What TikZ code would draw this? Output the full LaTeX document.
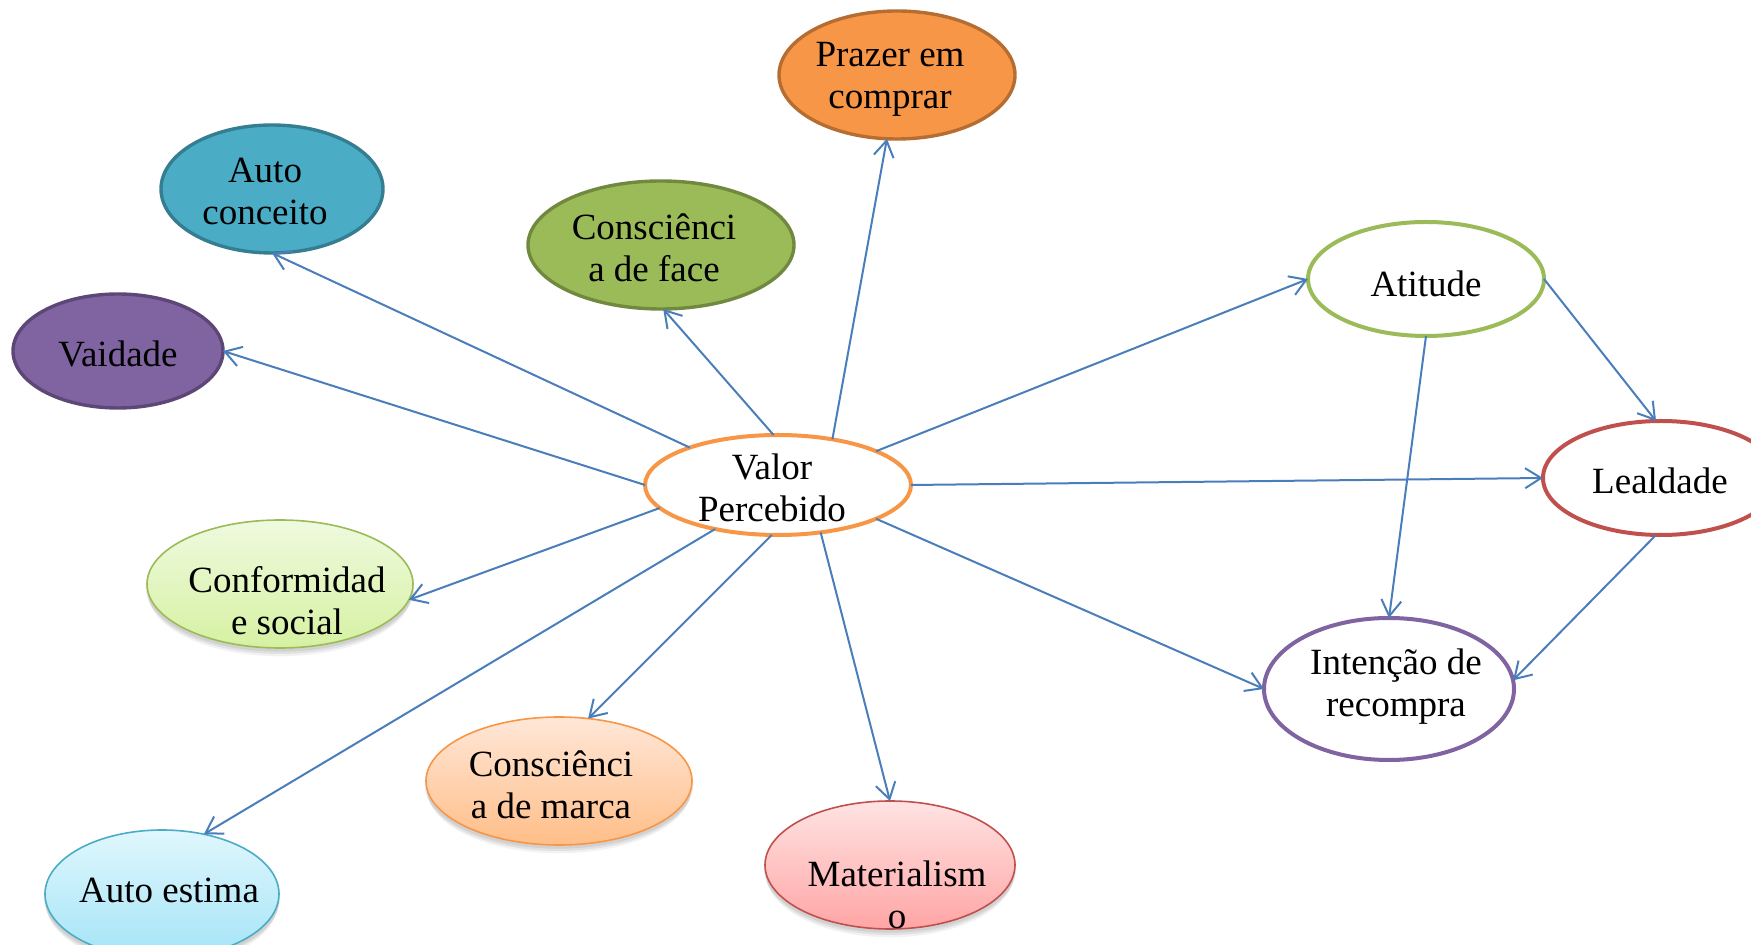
\documentclass[tikz,border=0pt]{standalone}
\usepackage{fontspec}
\setmainfont{Liberation Serif}
\usetikzlibrary{shapes.geometric,arrows.meta,shadows}
\definecolor{connc}{HTML}{4A7EBB}
\definecolor{orF}{HTML}{F79646}
\definecolor{orD}{HTML}{B66D31}
\definecolor{blF}{HTML}{4BACC6}
\definecolor{blD}{HTML}{357D91}
\definecolor{grF}{HTML}{9BBB59}
\definecolor{grD}{HTML}{71893F}
\definecolor{puF}{HTML}{8064A2}
\definecolor{puD}{HTML}{5C4776}
\definecolor{reD}{HTML}{C0504D}
\definecolor{gT}{HTML}{EFFADF}
\definecolor{gB}{HTML}{D6F1A2}
\definecolor{oT}{HTML}{FFE7D8}
\definecolor{oB}{HTML}{FFBE88}
\definecolor{rT}{HTML}{FFE3E3}
\definecolor{rB}{HTML}{FFA5A5}
\definecolor{cT}{HTML}{E0F7FD}
\definecolor{cB}{HTML}{A4E4F7}
\begin{document}
\begin{tikzpicture}[x=0.5pt,y=-0.5pt,
  ell/.style={ellipse, inner sep=0pt, outer sep=0pt},
  solidell/.style={ell, line width=1.7pt},
  ringell/.style={ell, fill=white, line width=2pt},
  gradell/.style={ell, line width=0.8pt,
    drop shadow={shadow xshift=0pt, shadow yshift=-1.5pt, opacity=0.07, fill=black, shadow scale=1.01},
    drop shadow={shadow xshift=0pt, shadow yshift=-3pt, opacity=0.07, fill=black},
    drop shadow={shadow xshift=0pt, shadow yshift=-4.5pt, opacity=0.05, fill=black, shadow scale=0.99}},
  lbl/.style={align=center, font=\fontsize{18.5}{21}\selectfont, inner sep=0pt},
  conn/.style={draw=connc, line width=1pt, -{Straight Barb[length=8pt,width=10pt]}},
]
\useasboundingbox (0,0) rectangle (1751,945);

% filled ellipses
\node[solidell, fill=orF, draw=orD, minimum width=118pt, minimum height=64pt] (prazer) at (897,75) {};
\node[solidell, fill=blF, draw=blD, minimum width=111pt, minimum height=64pt] (autoc) at (272,189) {};
\node[solidell, fill=grF, draw=grD, minimum width=133pt, minimum height=64pt] (face) at (661,245) {};
\node[solidell, fill=puF, draw=puD, minimum width=105pt, minimum height=57pt] (vaidade) at (118,351) {};

% ring ellipses
\node[ringell, draw=orF, minimum width=133pt, minimum height=50pt] (valor) at (778,485) {};
\node[ringell, draw=grF, minimum width=118pt, minimum height=57pt] (atitude) at (1426,279) {};
\node[ringell, draw=reD, minimum width=118pt, minimum height=57pt] (lealdade) at (1661,478) {};
\node[ringell, draw=puF, minimum width=125pt, minimum height=71pt] (intencao) at (1389,689) {};

% gradient ellipses
\node[gradell, draw=grF, top color=gT, bottom color=gB, minimum width=133pt, minimum height=64pt] (conform) at (280,584) {};
\node[gradell, draw=orF, top color=oT, bottom color=oB, minimum width=133pt, minimum height=64pt] (marca) at (559,781) {};
\node[gradell, draw=reD, top color=rT, bottom color=rB, minimum width=125pt, minimum height=64pt] (mater) at (890,865) {};
\node[gradell, draw=blF, top color=cT, bottom color=cB, minimum width=117pt, minimum height=64pt] (autoe) at (162,894) {};

% labels
\node[lbl] (prazer-t) at (890,79) {Prazer em\\comprar};
\node[lbl] (autoc-t) at (265,191) {Auto\\conceito};
\node[lbl] (face-t) at (654,248) {Consciênci\\a de face};
\node[lbl] (vaidade-t) at (118,354) {Vaidade};
\node[lbl] (valor-t) at (772,488) {Valor\\Percebido};
\node[lbl] (atitude-t) at (1426,284) {Atitude};
\node[lbl] (lealdade-t) at (1660,481) {Lealdade};
\node[lbl] (intencao-t) at (1396,687) {Intenção de\\recompra};
\node[lbl] (conform-t) at (287,601) {Conformidad\\e social};
\node[lbl] (marca-t) at (551,785) {Consciênci\\a de marca};
\node[lbl] (mater-t) at (897,895) {Materialism\\o};
\node[lbl] (autoe-t) at (169,890) {Auto estima};

% connectors
\draw[conn] (valor.40) -- (prazer.261);
\draw[conn] (valor.95) -- (face.272);
\draw[conn] (valor.157) -- (autoc.270);
\draw[conn] (valor.180) -- (vaidade.0);
\draw[conn] (valor.191) -- (conform.353);
\draw[conn] (valor.215) -- (autoe.55);
\draw[conn] (valor.263) -- (marca.65);
\draw[conn] (valor.312) -- (mater.90);
\draw[conn] (valor.341) -- (intencao.180);
\draw[conn] (valor.0) -- (lealdade.180);
\draw[conn] (valor.19) -- (atitude.180);
\draw[conn] (atitude.0) -- (lealdade.95);
\draw[conn] (atitude.270) -- (intencao.90);
\draw[conn] (lealdade.265) -- (intencao.4);
\end{tikzpicture}
\end{document}
